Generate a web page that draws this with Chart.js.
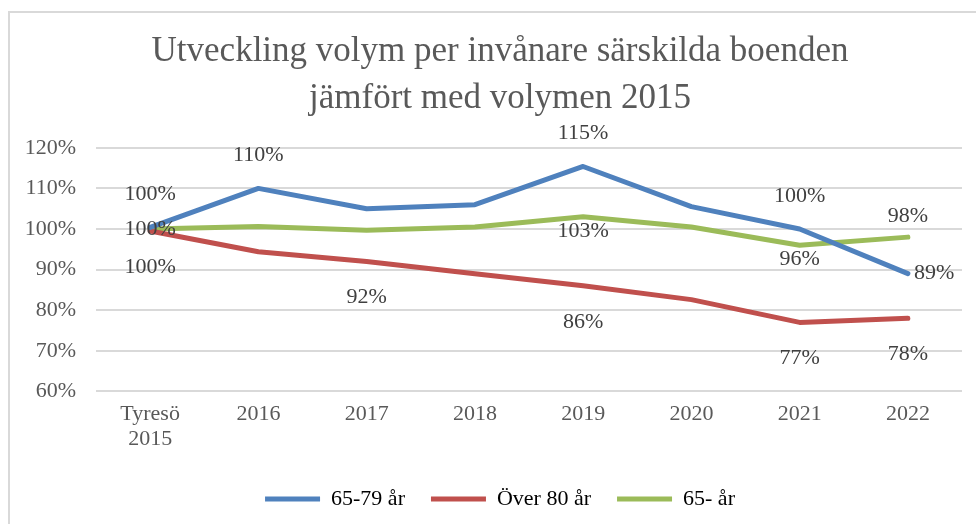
<!DOCTYPE html>
<html>
<head>
<meta charset="utf-8">
<script src="https://cdn.jsdelivr.net/npm/chart.js@4.4.1/dist/chart.umd.min.js"></script>
<style>
  html, body { margin: 0; padding: 0; background: #fff; overflow: hidden; }
  #frame { position: absolute; left: 8px; top: 11px; width: 1100px; height: 700px; border: 2px solid #d9d9d9; }
  #wrap { position: absolute; left: 0; top: 0; width: 1000px; height: 524px; }
</style>
</head>
<body>
<div id="frame"></div>
<div id="wrap"><canvas id="chart"></canvas></div>
<script>
// ──────────────────────────────────────────────
// Utveckling volym per invånare särskilda boenden
// ──────────────────────────────────────────────
const years = [['Tyresö', '2015'], '2016', '2017', '2018', '2019', '2020', '2021', '2022'];
const yTicks = [60, 70, 80, 90, 100, 110, 120];

const ages6579 = [100.4, 110, 105, 106, 115.4, 105.5, 100, 89];
const over80 = [99.5, 94.4, 92, 89, 86, 82.6, 77, 78];
const all65 = [100, 100.6, 99.7, 100.5, 103, 100.5, 96, 98];

// which points carry a value label, and where
const lbl6579 = ['above', 'above', null, null, 'above', null, 'above', 'right'];
const lblOver80 = ['below', null, 'below', null, 'below', null, 'below', 'below'];
const lbl65 = ['center', null, null, null, 'below', null, 'below', 'above'];

const blue = '#4f81bd';
const red = '#c0504d';
const green = '#9bbb59';
const serif = '"Liberation Serif", "DejaVu Serif", serif';

const offsets = [
  { above: -33, below: 36 },
  { above: -33, below: 36 },
  { above: -21, below: 14 },
];
const labelSpots = [lbl6579, lblOver80, lbl65];

const valueLabels = {
  id: 'valueLabels',
  afterDatasetsDraw(chart) {
    const ctx = chart.ctx;
    ctx.save();
    ctx.font = '22px ' + serif;
    ctx.fillStyle = '#404040';
    ctx.textBaseline = 'middle';
    chart.data.datasets.forEach((ds, i) => {
      const meta = chart.getDatasetMeta(i);
      meta.data.forEach((pt, j) => {
        const where = labelSpots[i][j];
        if (!where) return;
        const txt = Math.round(ds.data[j]) + '%';
        let x = pt.x, y = pt.y;
        ctx.textAlign = 'center';
        if (where === 'above') y += offsets[i].above;
        else if (where === 'below') y += offsets[i].below;
        else if (where === 'right') { x += 6; ctx.textAlign = 'left'; }
        ctx.fillText(txt, x, y);
      });
    });
    ctx.restore();
  },
};

const line = (label, data, color) => ({
  label, data,
  borderColor: color,
  backgroundColor: color,
  borderWidth: 5,
  borderCapStyle: 'round',
  borderJoinStyle: 'round',
  pointRadius: 0,
  tension: 0,
});

new Chart(document.getElementById('chart'), {
  type: 'line',
  data: {
    labels: years,
    datasets: [
      line('65-79 år', ages6579, blue),
      line('Över 80 år', over80, red),
      line('65- år', all65, green),
    ],
  },
  plugins: [valueLabels],
  options: {
    responsive: true, maintainAspectRatio: false, animation: false,
    layout: { padding: { left: 0, right: 0, top: 0, bottom: 4 } },
    plugins: {
      title: {
        display: true,
        text: ['Utveckling volym per invånare särskilda boenden', 'jämfört med volymen 2015'],
        color: '#595959',
        font: { family: serif, size: 35, weight: 'normal', lineHeight: 1.34 },
        padding: { top: 28, bottom: 26 },
      },
      legend: {
        position: 'bottom',
        labels: {
          color: '#595959',
          font: { family: serif, size: 22 },
          boxWidth: 55, boxHeight: 5,
          padding: 26,
          generateLabels: chart => chart.data.datasets.map((ds, i) => ({
            text: ds.label, fillStyle: ds.borderColor, strokeStyle: ds.borderColor,
            lineWidth: 0, datasetIndex: i,
          })),
        },
      },
      tooltip: { enabled: false },
    },
    scales: {
      x: {
        offset: true,
        grid: { display: false, drawTicks: false },
        border: { display: false },
        ticks: { color: '#595959', font: { family: serif, size: 22, lineHeight: 1.15 }, padding: 10, maxRotation: 0 },
      },
      y: {
        min: 60, max: 120,
        afterBuildTicks: axis => { axis.ticks = yTicks.map(v => ({ value: v })); },
        afterFit: axis => { axis.width = 96; },
        grid: { color: '#d9d9d9', lineWidth: 2, drawTicks: false },
        border: { display: false },
        ticks: { color: '#595959', font: { family: serif, size: 22 }, padding: 20, callback: v => v + '%' },
      },
      // empty right-hand gutter so the plot stops where the reference's does
      gutter: {
        type: 'linear', position: 'right', display: true,
        afterFit: axis => { axis.width = 38; },
        grid: { display: false, drawTicks: false },
        border: { display: false },
        ticks: { display: false },
      },
    },
  },
});
</script>
</body>
</html>
